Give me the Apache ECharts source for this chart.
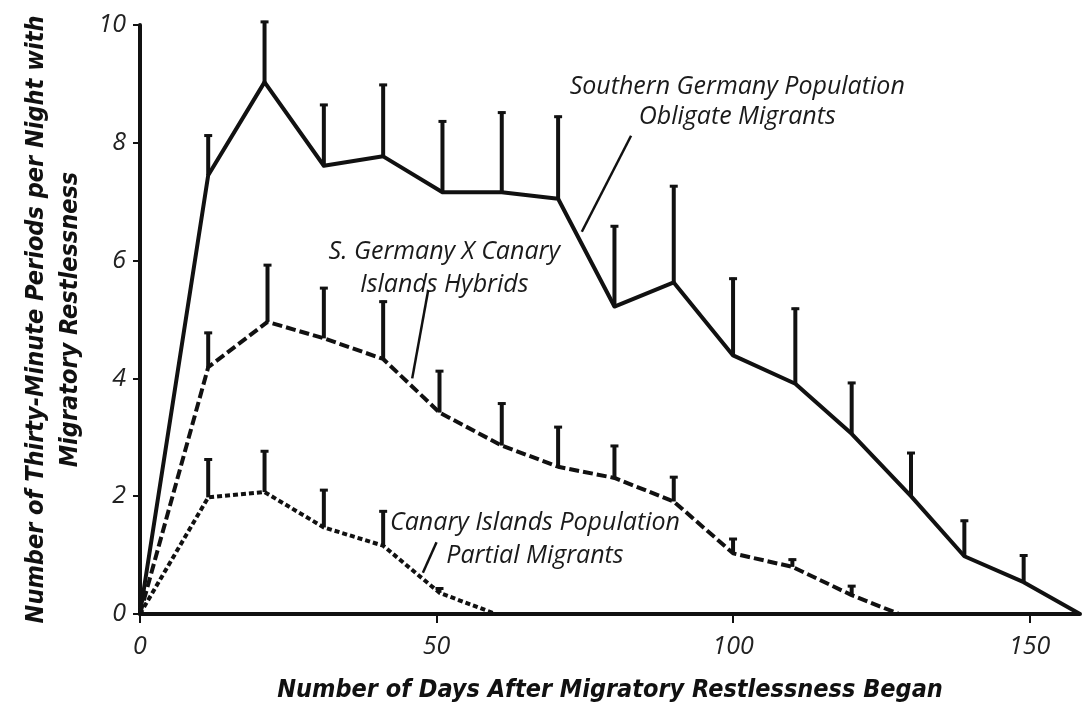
<!DOCTYPE html>
<html>
<head>
<meta charset="utf-8">
<script src="https://cdn.jsdelivr.net/npm/echarts@6/dist/echarts.min.js"></script>
<style>
html,body{margin:0;padding:0;background:#fff;}
#chart{width:1084px;height:724px;}
</style>
</head>
<body>
<div id="chart"></div>
<script>
// ---- data ----
const xTicks = [0, 50, 100, 150];
const yTicks = [0, 2, 4, 6, 8, 10];

const sgDays  = [0, 11.5, 21, 31, 41, 51, 61, 70.5, 80, 90, 100, 110.5, 120, 130, 139, 149, 158.5];
const sgMean  = [0, 7.45, 9.03, 7.61, 7.77, 7.16, 7.16, 7.05, 5.22, 5.63, 4.39, 3.91, 3.06, 2.0, 0.98, 0.54, 0];
const sgUpper = [null, 8.14, 10.07, 8.66, 9.0, 8.38, 8.53, 8.46, 6.6, 7.28, 5.71, 5.2, 3.94, 2.75, 1.6, 1.01, null];

const hyDays  = [0, 11.5, 21.5, 31, 41, 50.5, 61, 70.5, 80, 90, 100, 110, 120, 128];
const hyMean  = [0, 4.19, 4.96, 4.68, 4.33, 3.42, 2.86, 2.5, 2.31, 1.91, 1.03, 0.8, 0.32, 0];
const hyUpper = [null, 4.79, 5.94, 5.55, 5.32, 4.14, 3.59, 3.19, 2.87, 2.34, 1.29, 0.94, 0.49, null];

const ciDays  = [0, 11.5, 21, 31, 41, 50.5, 60];
const ciMean  = [0, 1.98, 2.07, 1.47, 1.16, 0.36, 0];
const ciUpper = [null, 2.64, 2.78, 2.12, 1.76, 0.45, null];

const sgName = 'Southern Germany Population\nObligate Migrants';
const hyName = 'S. Germany X Canary\nIslands Hybrids';
const ciName = 'Canary Islands Population\nPartial Migrants';

const xTitle = 'Number of Days After Migratory Restlessness Began';
const yTitle = 'Number of Thirty-Minute Periods per Night with\nMigratory Restlessness';

// annotation anchors in data space: text centre, leader line [x1,y1,x2,y2]
const sgNote = {pos: [100.7, 8.7], leader: [82.8, 8.12, 74.5, 6.49]};
const hyNote = {pos: [51.3, 5.87], leader: [48.6, 5.5, 45.9, 4.0]};
const ciNote = {pos: [66.6, 1.26], leader: [50, 1.22, 47.7, 0.7]};

// ---- build ----
const INK = '#111';
const labelFont = "'Open Sans', 'Noto Sans', sans-serif";
const titleFont = "'Liberation Sans Narrow', 'DejaVu Sans Condensed', 'Open Sans', sans-serif";

function pairs(xs, ys) { return xs.map((x, i) => [x, ys[i]]); }
function bars(xs, ys, ups) {
  const out = [];
  xs.forEach((x, i) => { if (ups[i] != null) out.push([x, ys[i], ups[i]]); });
  return out;
}
function errSeries(data) {
  return {
    type: 'custom', data: data, silent: true, z: 3,
    renderItem: function (params, api) {
      const p1 = api.coord([api.value(0), api.value(1)]);
      const p2 = api.coord([api.value(0), api.value(2)]);
      return {
        type: 'group',
        children: [
          {type: 'line', shape: {x1: p1[0], y1: p1[1], x2: p2[0], y2: p2[1]},
           style: {stroke: INK, lineWidth: 4}},
          {type: 'line', shape: {x1: p2[0] - 4, y1: p2[1] + 1, x2: p2[0] + 4, y2: p2[1] + 1},
           style: {stroke: INK, lineWidth: 3}}
        ]
      };
    }
  };
}
function lineSeries(name, data, type) {
  return {
    name: name, type: 'line', data: data, showSymbol: false, symbol: 'none',
    animation: false, z: 2,
    lineStyle: {color: INK, width: 4, type: type, cap: 'butt', join: 'round'}
  };
}

const chart = echarts.init(document.getElementById('chart'), null, {renderer: 'canvas'});
const option = {
  backgroundColor: '#fff',
  animation: false,
  grid: {left: 140, right: 4, top: 25, bottom: 110, containLabel: false},
  xAxis: {
    type: 'value', min: 0, max: 158.5,
    name: xTitle, nameLocation: 'middle', nameGap: 64,
    nameTextStyle: {fontFamily: titleFont, fontStyle: 'italic', fontWeight: 'bold', fontSize: 25, color: INK},
    axisLine: {show: true, lineStyle: {color: INK, width: 4}},
    axisTick: {show: true, inside: false, length: 9, lineStyle: {color: INK, width: 2}, customValues: xTicks},
    axisLabel: {show: true, customValues: xTicks, margin: 20, fontFamily: labelFont, fontStyle: 'italic', fontSize: 25, color: '#222'},
    splitLine: {show: false}
  },
  yAxis: {
    type: 'value', min: 0, max: 10, interval: 2,
    name: yTitle, nameLocation: 'middle', nameGap: 46, nameRotate: 90,
    nameTextStyle: {fontFamily: titleFont, fontStyle: 'italic', fontWeight: 'bold', fontSize: 25, color: INK, lineHeight: 34},
    axisLine: {show: true, lineStyle: {color: INK, width: 4}},
    axisTick: {show: true, inside: false, length: 7, lineStyle: {color: INK, width: 2}},
    axisLabel: {show: true, margin: 14, fontFamily: labelFont, fontStyle: 'italic', fontSize: 25, color: '#222'},
    splitLine: {show: false}
  },
  series: [
    lineSeries(sgName, pairs(sgDays, sgMean), 'solid'),
    lineSeries(hyName, pairs(hyDays, hyMean), [10, 4]),
    lineSeries(ciName, pairs(ciDays, ciMean), [5, 3]),
    errSeries(bars(sgDays, sgMean, sgUpper)),
    errSeries(bars(hyDays, hyMean, hyUpper)),
    errSeries(bars(ciDays, ciMean, ciUpper))
  ]
};
chart.setOption(option);

// annotations anchored in data coordinates
function px(pt) { return chart.convertToPixel({gridIndex: 0}, pt); }
function note(n, text, lh) {
  const c = px(n.pos);
  const a = px([n.leader[0], n.leader[1]]);
  const b = px([n.leader[2], n.leader[3]]);
  return [
    {type: 'text', x: c[0], y: c[1], z: 10,
     style: {text: text, fontFamily: labelFont, fontStyle: 'italic', fontSize: 25, lineHeight: lh,
             fill: '#1a1a1a', align: 'center', verticalAlign: 'middle'}},
    {type: 'line', z: 10, shape: {x1: a[0], y1: a[1], x2: b[0], y2: b[1]},
     style: {stroke: INK, lineWidth: 2.5}}
  ];
}
chart.setOption({
  graphic: [].concat(note(sgNote, sgName, 30), note(hyNote, hyName, 33), note(ciNote, ciName, 33))
});
</script>
</body>
</html>
